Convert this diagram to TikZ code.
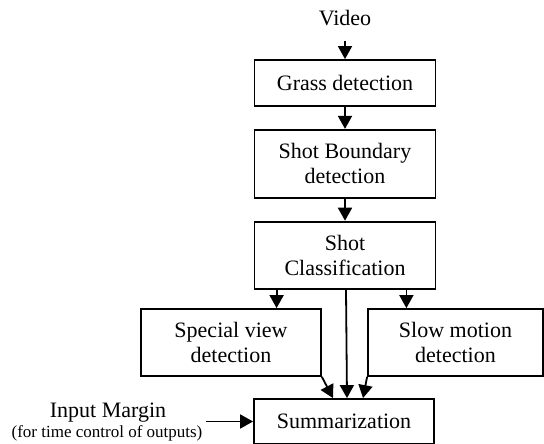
\documentclass[tikz,border=0pt]{standalone}
\usepackage{fontspec}
\setmainfont{Liberation Serif}
\usetikzlibrary{positioning,arrows.meta}

\begin{document}
\begin{tikzpicture}[x=1pt,y=-1pt,->,>={Triangle[width=14pt,length=13pt]},line width=1.8pt,
    block/.style={rectangle,draw,minimum width=181pt,align=center,font=\fontsize{22}{25}\selectfont,inner sep=0pt},
    lbl/.style={font=\fontsize{22}{25}\selectfont,inner sep=0pt}]
    \useasboundingbox (0,0) rectangle (544,444);
            \node[lbl] (video) at (345,18) {Video};
            \node[block,minimum height=46pt] (grass) at (345,83) {Grass detection};
            \node[block,minimum height=68pt] (boundary) [below=22pt of grass] {Shot Boundary\\detection};
            \node[block,minimum height=67pt] (classif) [below=22pt of boundary] {Shot\\Classification};
            \node[block,minimum width=180pt,minimum height=67pt] (special) at (231,342.5) {Special view\\detection};
            \node[block,minimum width=175pt,minimum height=67pt] (slow) at (455.5,342.5) {Slow motion\\detection};
            \node[block,minimum width=180pt,minimum height=45pt] (summ) at (344,421.5) {Summarization};
            \node[lbl] (margin) at (108,413) {Input Margin};
            \node[inner sep=0pt,font=\fontsize{17}{20}\selectfont] (marginnote) at (107,433) {(for time control of outputs)};

            \draw ([yshift=-14pt]video.south) -- (grass);
            \draw (grass) -- (boundary);
            \draw (boundary) -- (classif);
            \draw ([xshift=23pt]classif.south west) -- ([xshift=23pt]classif.south west |- special.north);
            \draw ([xshift=-30pt]classif.south east) -- ([xshift=-30pt]classif.south east |- slow.north);
            \draw ([xshift=1pt]classif.south) -- ([xshift=3pt]summ.north);
            \draw (special.south east) -- ([xshift=-11pt]summ.north);
            \draw (slow.south west) -- ([xshift=19pt]summ.north);
            \draw ([xshift=3pt]marginnote.east |- summ.west) -- (summ.west);
        \end{tikzpicture}
\end{document}
